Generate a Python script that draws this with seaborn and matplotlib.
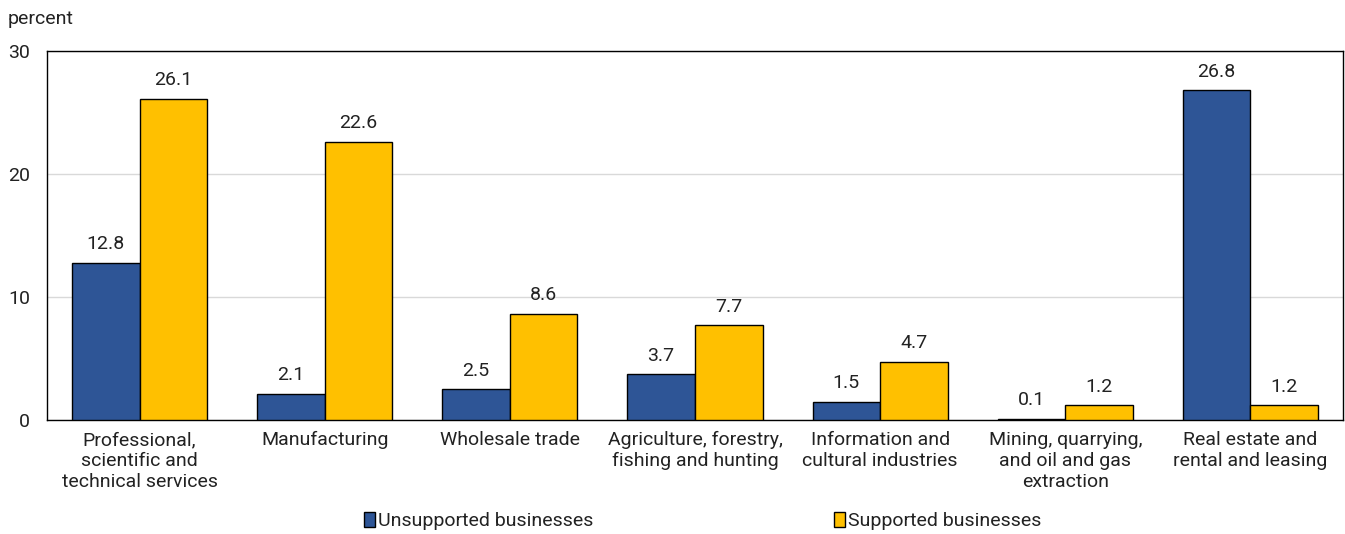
import matplotlib
matplotlib.use("Agg")
import matplotlib.pyplot as plt
import seaborn as sns
import pandas as pd

categories = [
    "Professional,\nscientific and\ntechnical services",
    "Manufacturing",
    "Wholesale trade",
    "Agriculture, forestry,\nfishing and hunting",
    "Information and\ncultural industries",
    "Mining, quarrying,\nand oil and gas\nextraction",
    "Real estate and\nrental and leasing",
]
unsupported = [12.8, 2.1, 2.5, 3.7, 1.5, 0.1, 26.8]
supported = [26.1, 22.6, 8.6, 7.7, 4.7, 1.2, 1.2]
series_names = ["Unsupported businesses", "Supported businesses"]
y_ticks = [0, 10, 20, 30]

sns.set_theme(style="white")
plt.rcParams["font.family"] = ["Roboto", "DejaVu Sans"]
plt.rcParams["font.size"] = 14

df = pd.DataFrame({
    "category": categories * 2,
    "value": unsupported + supported,
    "series": [series_names[0]] * len(categories) + [series_names[1]] * len(categories),
})

fig = plt.figure(figsize=(13.45, 5.34), dpi=100)
ax = fig.add_axes([0.0349, 0.2135, 0.9636, 0.691])

palette = {series_names[0]: "#2E5596", series_names[1]: "#FFC000"}
sns.barplot(data=df, x="category", y="value", hue="series", palette=palette,
            width=0.73, edgecolor="black", linewidth=1.0, saturation=1,
            ax=ax, zorder=3)

for cont in ax.containers:
    ax.bar_label(cont, fmt="%.1f", padding=7, fontsize=14, color="#222222")

ax.set_ylim(0, 30)
ax.set_yticks(y_ticks)
ax.yaxis.grid(True, color="#d9d9d9", linewidth=1, zorder=0)
ax.set_axisbelow(True)
ax.set_xlabel("")
ax.set_ylabel("")
ax.tick_params(axis="both", length=0, labelsize=14, colors="#222222")
ax.tick_params(axis="y", pad=12)
ax.tick_params(axis="x", pad=8)
for lbl in ax.get_xticklabels():
    lbl.set_linespacing(1.2)
for s in ax.spines.values():
    s.set_visible(True)
    s.set_color("black")
    s.set_linewidth(1.0)

fig.text(0.006, 0.964, "percent", fontsize=14, color="#222222", va="center", ha="left")

ax.legend(loc="center", bbox_to_anchor=(0.506, -0.274), ncol=2, frameon=False,
          fontsize=14, handlelength=0.55, handleheight=0.85, handletextpad=0.15,
          columnspacing=12.4, labelcolor="#222222")

fig.savefig("out.png", dpi=100)
